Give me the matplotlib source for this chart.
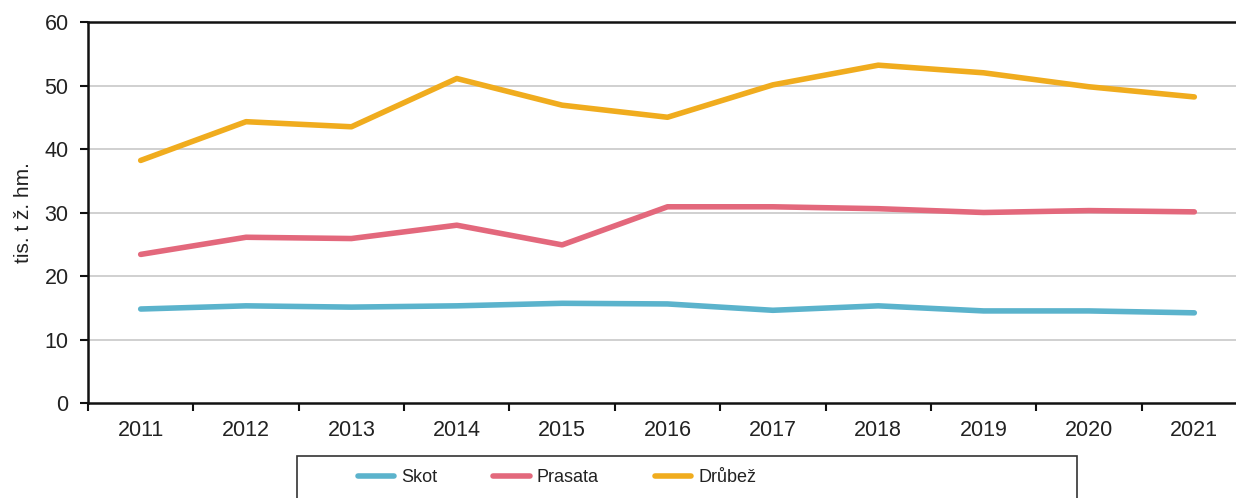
import numpy as np
from matplotlib import pyplot as plt
from matplotlib.patches import Rectangle

plt.rcParams['font.family'] = ['Liberation Sans', 'DejaVu Sans']

years = ['2011', '2012', '2013', '2014', '2015', '2016', '2017', '2018', '2019', '2020', '2021']
skot = [14.8, 15.3, 15.1, 15.3, 15.7, 15.6, 14.6, 15.3, 14.5, 14.5, 14.2]
prasata = [23.4, 26.1, 25.9, 28.0, 24.9, 30.9, 30.9, 30.6, 30.0, 30.3, 30.1]
drubez = [38.2, 44.3, 43.5, 51.1, 46.9, 45.0, 50.1, 53.2, 52.0, 49.8, 48.2]
series_names = ['Skot', 'Prasata', 'Drůbež']
colors = ['#5BB3CC', '#E3687C', '#F0AC1E']

W, H = 1236, 498
fig = plt.figure(figsize=(W / 100, H / 100), dpi=100)
ax = fig.add_axes([88 / W, 1 - 403 / H, (1247 - 88) / W, (403 - 22) / H])

x = np.arange(len(years))
for vals, name, c in zip([skot, prasata, drubez], series_names, colors):
    ax.plot(x, vals, color=c, lw=4, solid_capstyle='round', solid_joinstyle='round',
            label=name, zorder=3)

ax.set_xlim(-0.5, len(years) - 0.5)
ax.set_ylim(0, 60)
ax.set_yticks(np.arange(0, 61, 10))
ax.set_xticks(x)
ax.set_xticklabels(years)
ax.set_xticks(np.arange(-0.5, len(years), 1), minor=True)
ax.tick_params(axis='x', which='major', length=0, pad=12, labelsize=15.5, labelcolor='#222222')
ax.tick_params(axis='x', which='minor', length=6, width=1.5, direction='out', color='#111111')
ax.tick_params(axis='y', length=6, width=1.5, direction='out', labelsize=15.5, labelcolor='#222222',
               color='#111111', pad=8)

for yv in range(10, 60, 10):
    ax.axhline(yv, color='#C8C8C8', lw=1.2, zorder=1)
ax.axhline(60, color='#111111', lw=1.8, zorder=2, clip_on=False)

for s in ['top', 'right']:
    ax.spines[s].set_visible(False)
ax.spines['left'].set_linewidth(1.8)
ax.spines['bottom'].set_linewidth(1.8)
ax.spines['left'].set_color('#111111')
ax.spines['bottom'].set_color('#111111')

ax.set_ylabel('tis. t ž. hm.', fontsize=15, color='#222222', labelpad=8)

# legend frame
fig.patches.append(Rectangle((297 / W, -0.02), (1077 - 297) / W, (498 - 456) / H + 0.02,
                             transform=fig.transFigure, fill=False, edgecolor='#333333', lw=1.2))
fig.legend(loc='center', bbox_to_anchor=(557 / W, 1 - 478 / H), ncol=3, frameon=False,
           prop={'size': 13}, labelcolor='#222222',
           handlelength=2.0, handletextpad=0.4, columnspacing=3.1)

fig.savefig('out.png', dpi=100)
